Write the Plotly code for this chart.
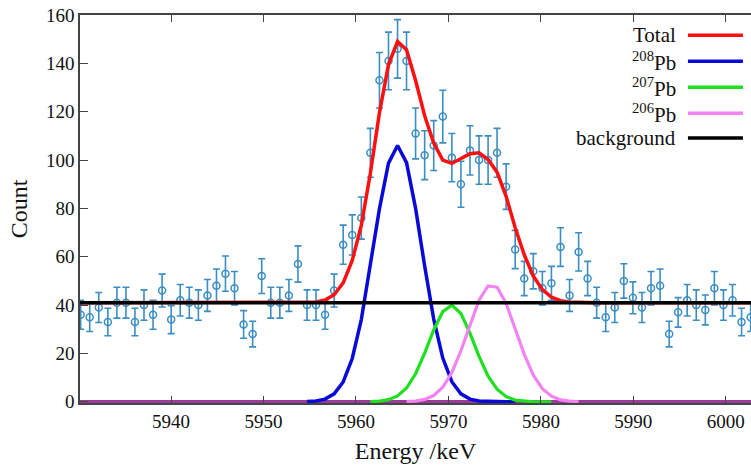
import plotly.graph_objects as go

# ---------------- data ----------------
energy = [5930.23, 5931.21, 5932.19, 5933.17, 5934.15, 5935.13, 5936.10, 5937.08, 5938.06, 5939.04,
          5940.02, 5941.00, 5941.98, 5942.96, 5943.94, 5944.92, 5945.89, 5946.87, 5947.85, 5948.83,
          5949.81, 5950.79, 5951.77, 5952.75, 5953.73, 5954.71, 5955.68, 5956.66, 5957.64, 5958.62,
          5959.60, 5960.58, 5961.56, 5962.54, 5963.52, 5964.50, 5965.47, 5966.45, 5967.43, 5968.41,
          5969.39, 5970.37, 5971.35, 5972.33, 5973.31, 5974.29, 5975.26, 5976.24, 5977.22, 5978.20,
          5979.18, 5980.16, 5981.14, 5982.12, 5983.10, 5984.08, 5985.05, 5986.03, 5987.01, 5987.99,
          5988.97, 5989.95, 5990.93, 5991.91, 5992.89, 5993.87, 5994.84, 5995.82, 5996.80, 5997.78,
          5998.76, 5999.74, 6000.72, 6001.70, 6002.68]

counts = [36, 35, 39, 33, 41, 41, 33, 40, 36, 46,
          34, 42, 41, 40, 44, 48, 53, 47, 32, 28,
          52, 41, 41, 44, 57, 40, 40, 36, 46, 65,
          69, 76, 103, 133, 141, 146, 141, 111, 102, 106,
          118, 101, 90, 104, 100, 100, 103, 89, 63, 51,
          54, 47, 49, 64, 44, 62, 51, 41, 35, 39,
          50, 43, 39, 47, 48, 28, 37, 42, 40, 38,
          47, 40, 42, 33, 35]

count_err = [6.0, 5.9, 6.2, 5.7, 6.4, 6.4, 5.7, 6.3, 6.0, 6.8,
             5.8, 6.5, 6.4, 6.3, 6.6, 6.9, 7.3, 6.9, 5.7, 5.3,
             7.2, 6.4, 6.4, 6.6, 7.5, 6.3, 6.3, 6.0, 6.8, 8.1,
             8.3, 8.7, 10.1, 11.5, 11.9, 12.1, 11.9, 10.5, 10.1, 10.3,
             10.9, 10.0, 9.5, 10.2, 10.0, 10.0, 10.1, 9.4, 7.9, 7.1,
             7.3, 6.9, 7.0, 8.0, 6.6, 7.9, 7.1, 6.4, 5.9, 6.2,
             7.1, 6.6, 6.2, 6.9, 6.9, 5.3, 6.1, 6.5, 6.3, 6.2,
             6.9, 6.3, 6.5, 5.7, 5.9]

total_fit = [41.0, 41.0, 41.0, 41.0, 41.0, 41.0, 41.0, 41.0, 41.0, 41.0,
             41.0, 41.0, 41.0, 41.0, 41.0, 41.0, 41.0, 41.0, 41.0, 41.0,
             41.0, 41.0, 41.0, 41.0, 41.0, 41.0, 41.3, 42.1, 44.3, 49.2,
             58.5, 73.0, 94.5, 119.5, 139.5, 149.0, 145.6, 132.9, 118.3, 107.0,
             100.0, 98.6, 100.8, 102.6, 103.0, 100.2, 95.0, 85.0, 72.0, 60.8,
             52.0, 46.4, 43.3, 41.8, 41.3, 41.1, 41.0, 41.0, 41.0, 41.0,
             41.0, 41.0, 41.0, 41.0, 41.0, 41.0, 41.0, 41.0, 41.0, 41.0,
             41.0, 41.0, 41.0, 41.0, 41.0]

pb208_fit = [0.1, 0.3, 1.1, 3.3, 8.2, 17.9, 34.0, 56.0, 79.8, 98.7,
             106.0, 98.9, 80.0, 56.2, 34.2, 18.1, 8.3, 3.3, 1.1, 0.3,
             0.1, 0.0, 0.0, 0.0]          # energy[25:49]
pb207_fit = [0.1, 0.3, 0.9, 2.4, 5.7, 11.6, 20.1, 29.7, 37.3, 40.0,
             36.5, 28.4, 18.8, 10.6, 5.2, 2.1, 0.7, 0.2, 0.0, 0.0,
             0.0]                          # energy[32:53]
pb206_fit = [0.1, 0.3, 1.0, 2.6, 6.0, 12.1, 21.1, 32.0, 42.0, 47.9,
             47.4, 40.7, 30.3, 19.6, 11.0, 5.4, 2.3, 0.8, 0.3, 0.0]   # energy[36:56]
background_level = [41.0, 41.0]
background_x = [5930.16, 6002.72]

legend_labels = ["Total", "<sup>208</sup>Pb", "<sup>207</sup>Pb", "<sup>206</sup>Pb", "background"]
legend_colors = ["#ff1010", "#0a0ad8", "#1ee01e", "#f283f0", "#000000"]

SERIF = "Liberation Serif, Times New Roman, serif"
POINT_COLOR = "#3a8ec4"

fig = go.Figure()

fig.add_trace(go.Scatter(
    x=energy, y=counts, mode="markers",
    marker=dict(symbol="circle-open", size=7, color=POINT_COLOR, line=dict(width=1.5, color=POINT_COLOR)),
    error_y=dict(type="data", array=count_err, visible=True, color=POINT_COLOR, thickness=1.6, width=3.5),
    showlegend=False, cliponaxis=True,
))

fig.add_trace(go.Scatter(x=energy, y=total_fit, mode="lines",
                         line=dict(color=legend_colors[0], width=3.5), showlegend=False))
fig.add_trace(go.Scatter(x=energy[25:49], y=pb208_fit, mode="lines",
                         line=dict(color=legend_colors[1], width=3.5), showlegend=False))
fig.add_trace(go.Scatter(x=energy[32:53], y=pb207_fit, mode="lines",
                         line=dict(color=legend_colors[2], width=3.2), showlegend=False))
fig.add_trace(go.Scatter(x=energy[36:56], y=pb206_fit, mode="lines",
                         line=dict(color=legend_colors[3], width=3.2), showlegend=False))
fig.add_trace(go.Scatter(x=background_x, y=background_level, mode="lines",
                         line=dict(color=legend_colors[4], width=3.5), showlegend=False))

# legend drawn as text on the left of its line samples
row_y = [0.948, 0.881, 0.814, 0.747, 0.683]
for lab, col, yy in zip(legend_labels, legend_colors, row_y):
    fig.add_annotation(xref="paper", yref="paper", x=0.891, y=yy, text=lab, showarrow=False,
                       xanchor="right", yanchor="middle", font=dict(family=SERIF, size=21, color="#111"))
    fig.add_shape(type="line", xref="paper", yref="paper", x0=0.906, x1=0.988, y0=yy, y1=yy,
                  line=dict(color=col, width=3.5))

fig.update_layout(
    width=751, height=465, autosize=False,
    margin=dict(l=80, r=0, t=15, b=62),
    paper_bgcolor="white", plot_bgcolor="white",
    font=dict(family=SERIF, color="#111"),
    showlegend=False,
)
fig.update_xaxes(
    automargin=False,
    range=[5930.16, 6002.72], tick0=5930, dtick=10,
    ticks="inside", ticklen=7, tickwidth=1.3, tickcolor="#444",
    showline=True, linecolor="#444", linewidth=1.5, mirror="ticks",
    showgrid=False, zeroline=False,
    tickfont=dict(family=SERIF, size=19, color="#111"),
    title=dict(text="Energy /keV", font=dict(family=SERIF, size=24, color="#111"), standoff=12),
)
fig.update_yaxes(
    automargin=False,
    range=[-0.5, 160], tick0=0, dtick=20,
    ticks="inside", ticklen=8, tickwidth=1.3, tickcolor="#444",
    showline=True, linecolor="#444", linewidth=1.5, mirror=False,
    showgrid=False, zeroline=True, zerolinecolor="#9a3a9a", zerolinewidth=2.5,
    tickfont=dict(family=SERIF, size=19, color="#111"),
    title=dict(text="Count", font=dict(family=SERIF, size=24, color="#111"), standoff=12),
)

fig.write_html("out.html", config={"displayModeBar": False},
               post_script="document.body.style.margin='0';document.body.style.overflow='hidden';")
